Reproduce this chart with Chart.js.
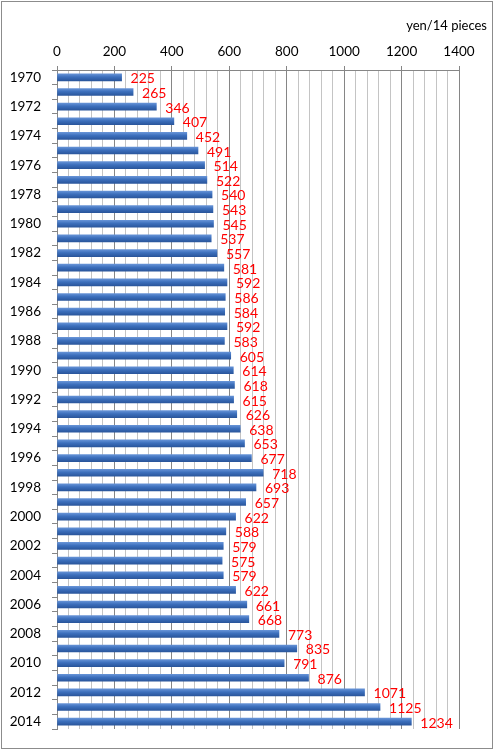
<!DOCTYPE html>
<html>
<head>
<meta charset="utf-8">
<script src="https://cdn.jsdelivr.net/npm/chart.js@4/dist/chart.umd.min.js"></script>
<style>
  html, body { margin: 0; padding: 0; background: #fff; }
  #wrap { width: 494px; height: 751px; position: relative; }
</style>
</head>
<body>
<div id="wrap"><canvas id="priceChart"></canvas></div>
<script>
// data
var years = [];
for (var yr = 1970; yr <= 2014; yr++) years.push(String(yr));

var prices = [225, 265, 346, 407, 452, 491, 514, 522, 540, 543,
              545, 537, 557, 581, 592, 586, 584, 592, 583, 605,
              614, 618, 615, 626, 638, 653, 677, 718, 693, 657,
              622, 588, 579, 575, 579, 622, 661, 668, 773, 835,
              791, 876, 1071, 1125, 1234];

var xMin = 0, xMax = 1400, xMinorStep = 40, xMajorStep = 200;
var unitLabel = 'yen/14 pieces';

var FONT = 'Lato, "Open Sans", sans-serif';

// bar fill: light top, dark bottom like the old office charts
function barFill(ctx) {
    var chart = ctx.chart;
    if (!chart.chartArea || !chart.scales.y || ctx.dataIndex === undefined) return '#3b6cb7';
    var y = chart.scales.y.getPixelForValue(ctx.dataIndex);
    var g = chart.ctx.createLinearGradient(0, y - 3.5, 0, y + 3.5);
    g.addColorStop(0, '#6592d6');
    g.addColorStop(0.45, '#3c6fbc');
    g.addColorStop(1, '#2a569c');
    return g;
}

// red numbers at the end of each bar + frame + unit text
var extras = {
    id: 'extras',
    beforeDraw: function(chart) {
        var c = chart.ctx;
        c.save();
        c.strokeStyle = '#8c8c8c';
        c.lineWidth = 1;
        c.strokeRect(1.5, 1.5, 491, 747);
        c.restore();
    },
    afterDatasetsDraw: function(chart) {
        var c = chart.ctx;
        var meta = chart.getDatasetMeta(0);
        c.save();
        c.font = '14px ' + FONT;
        c.fillStyle = '#ff0000';
        c.textAlign = 'left';
        c.textBaseline = 'middle';
        meta.data.forEach(function(bar, i) {
            c.fillText(String(prices[i]), bar.x + 9, bar.y + 1.5);
        });
        c.restore();
    },
    afterDraw: function(chart) {
        var c = chart.ctx;
        c.save();
        c.font = '13px ' + FONT;
        c.fillStyle = '#000';
        c.textAlign = 'right';
        c.textBaseline = 'middle';
        c.fillText(unitLabel, 487, 26);
        c.restore();
    }
};

var chart = new Chart(document.getElementById('priceChart'), {
    type: 'bar',
    data: {
        labels: years,
        datasets: [{
            data: prices,
            backgroundColor: barFill,
            borderWidth: 0,
            barThickness: 7
        }]
    },
    options: {
        indexAxis: 'y',
        responsive: true,
        maintainAspectRatio: false,
        devicePixelRatio: 1,
        animation: false,
        layout: { padding: { left: 10, right: 35, top: 30, bottom: 22 } },
        plugins: {
            legend: { display: false },
            tooltip: { enabled: false }
        },
        scales: {
            x: {
                position: 'top',
                min: xMin,
                max: xMax,
                afterFit: function(scale) { scale.height = 40; },
                ticks: {
                    stepSize: xMinorStep,
                    autoSkip: false,
                    maxRotation: 0,
                    padding: 6,
                    color: '#000',
                    font: { family: FONT, size: 13.5 },
                    callback: function(v) { return v % xMajorStep === 0 ? v : ''; }
                },
                grid: {
                    color: function(ctx) {
                        return ctx.tick && ctx.tick.value % xMajorStep === 0 ? '#868686' : '#c4c4c4';
                    },
                    tickColor: function(ctx) {
                        return ctx.tick && ctx.tick.value % xMajorStep === 0 ? '#868686' : 'rgba(0,0,0,0)';
                    },
                    tickLength: 4
                },
                border: { display: true, color: '#868686' }
            },
            y: {
                afterFit: function(scale) { scale.width = 47; },
                ticks: {
                    autoSkip: false,
                    padding: 11,
                    color: '#000',
                    font: { family: FONT, size: 13.5 },
                    callback: function(v, i) { return i % 2 === 0 ? years[i] : ''; }
                },
                grid: {
                    drawOnChartArea: false,
                    color: '#868686',
                    tickLength: 5
                },
                border: { display: true, color: '#868686' }
            }
        }
    },
    plugins: [extras]
});
</script>
</body>
</html>
